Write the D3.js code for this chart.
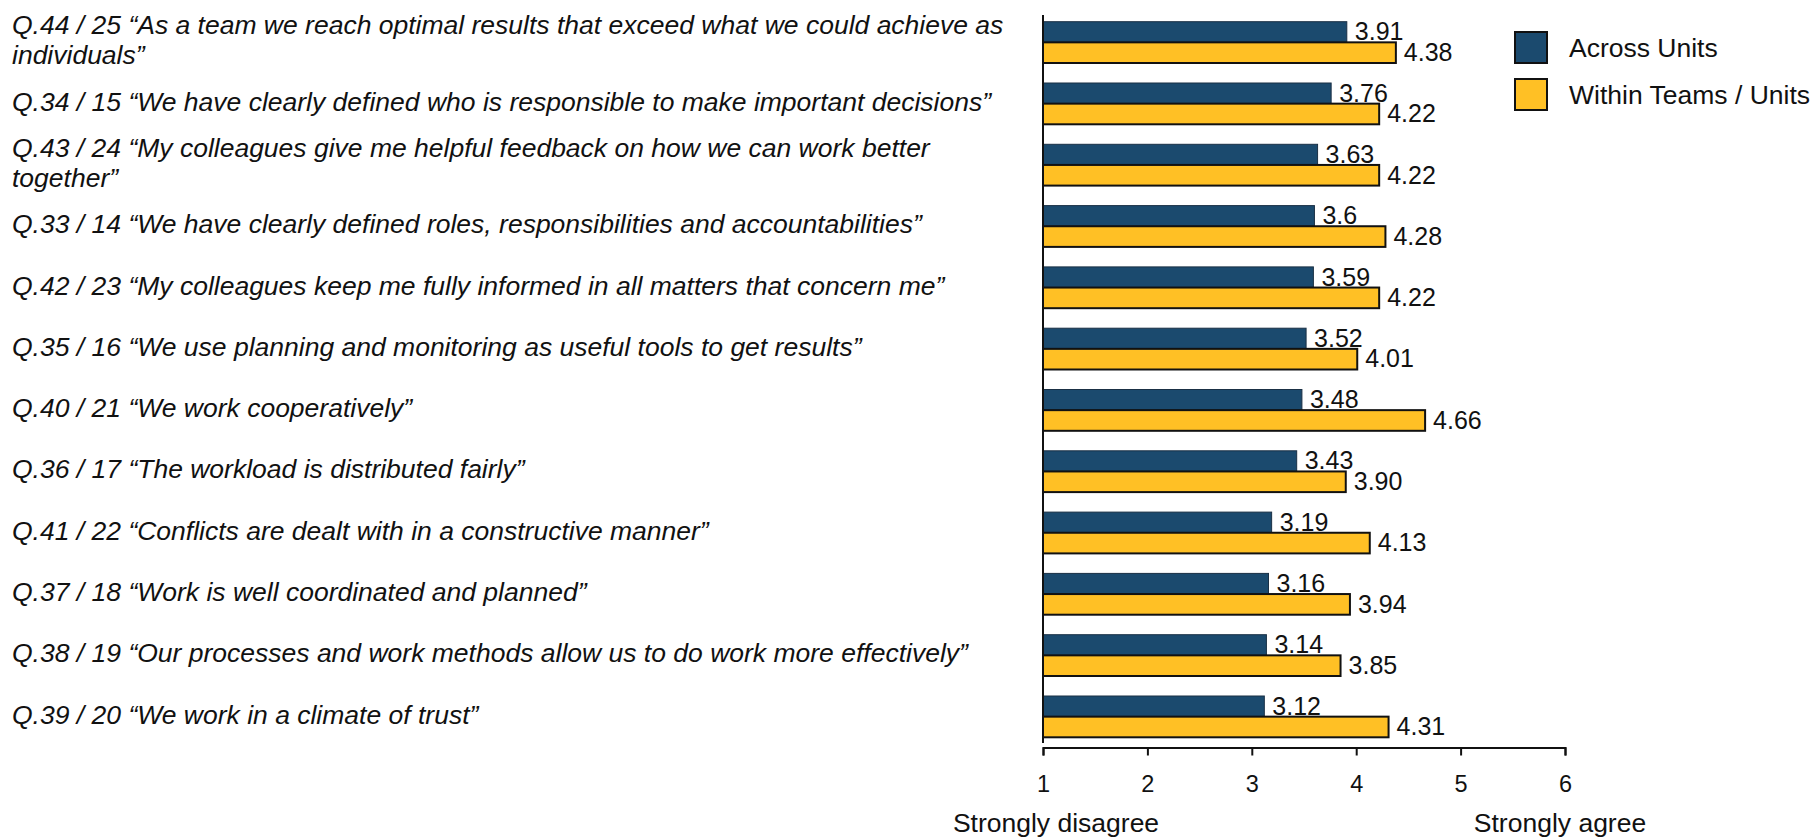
<!DOCTYPE html>
<html>
<head>
<meta charset="utf-8">
<script src="https://cdn.jsdelivr.net/npm/d3@7"></script>
<style>
  html, body { margin: 0; padding: 0; background: #fff; }
  svg { display: block; font-family: "Liberation Sans", Arial, sans-serif; }
</style>
</head>
<body>
<svg id="chart" width="1819" height="838"></svg>
<script>
// Survey statements (line breaks mark where long labels wrap)
const categories = [
  "Q.44 / 25 \u201CAs a team we reach optimal results that exceed what we could achieve as\nindividuals\u201D",
  "Q.34 / 15 \u201CWe have clearly defined who is responsible to make important decisions\u201D",
  "Q.43 / 24 \u201CMy colleagues give me helpful feedback on how we can work better\ntogether\u201D",
  "Q.33 / 14 \u201CWe have clearly defined roles, responsibilities and accountabilities\u201D",
  "Q.42 / 23 \u201CMy colleagues keep me fully informed in all matters that concern me\u201D",
  "Q.35 / 16 \u201CWe use planning and monitoring as useful tools to get results\u201D",
  "Q.40 / 21 \u201CWe work cooperatively\u201D",
  "Q.36 / 17 \u201CThe workload is distributed fairly\u201D",
  "Q.41 / 22 \u201CConflicts are dealt with in a constructive manner\u201D",
  "Q.37 / 18 \u201CWork is well coordinated and planned\u201D",
  "Q.38 / 19 \u201COur processes and work methods allow us to do work more effectively\u201D",
  "Q.39 / 20 \u201CWe work in a climate of trust\u201D"
];

const seriesNames = ["Across Units", "Within Teams / Units"];
const acrossUnits = [3.91, 3.76, 3.63, 3.6, 3.59, 3.52, 3.48, 3.43, 3.19, 3.16, 3.14, 3.12];
const withinTeams = [4.38, 4.22, 4.22, 4.28, 4.22, 4.01, 4.66, 3.90, 4.13, 3.94, 3.85, 4.31];

const xTicks = [1, 2, 3, 4, 5, 6];
const scaleEnds = ["Strongly disagree", "Strongly agree"];

const colors = ["#1b4a6e", "#ffc025"];
const strokes = ["#1a3045", "#111"];
const labelFormat = [v => String(v), v => v.toFixed(2)];

const svg = d3.select("#chart");

const x = d3.scaleLinear().domain([1, 6]).range([1043, 1565]);

const y = d3.scaleBand()
  .domain(categories)
  .range([11.4, 747.6])
  .paddingInner(0.3263)
  .paddingOuter(0.168);

const ySub = d3.scaleBand()
  .domain(seriesNames)
  .range([0, y.bandwidth()]);

const rows = categories.map((c, i) => ({
  cat: c,
  values: [acrossUnits[i], withinTeams[i]]
}));

// Category labels on the left
const labelG = svg.append("g").attr("class", "cat-labels");
rows.forEach(r => {
  const lines = r.cat.split("\n");
  const cy = y(r.cat) + y.bandwidth() / 2;
  const t = labelG.append("text")
    .attr("font-size", 26.5)
    .attr("font-style", "italic")
    .attr("fill", "#111");
  lines.forEach((ln, k) => {
    t.append("tspan")
      .attr("x", 12)
      .attr("y", cy + (k - (lines.length - 1) / 2) * 30 + 7)
      .text(ln);
  });
});

// Bars
const groups = svg.append("g").selectAll("g.row")
  .data(rows)
  .join("g")
  .attr("class", "row")
  .attr("transform", d => `translate(0,${y(d.cat)})`);

groups.selectAll("rect")
  .data(d => d.values.map((v, s) => ({ v, s })))
  .join("rect")
  .attr("x", x(1))
  .attr("y", d => ySub(seriesNames[d.s]))
  .attr("width", d => x(d.v) - x(1))
  .attr("height", ySub.bandwidth())
  .attr("fill", d => colors[d.s])
  .attr("stroke", d => strokes[d.s])
  .attr("stroke-width", d => d.s === 1 ? 2 : 1);

groups.selectAll("text")
  .data(d => d.values.map((v, s) => ({ v, s })))
  .join("text")
  .attr("x", d => x(d.v) + 8)
  .attr("y", d => ySub(seriesNames[d.s]) + ySub.bandwidth() - 2)
  .attr("font-size", 25)
  .attr("fill", "#111")
  .text(d => labelFormat[d.s](d.v));

// Vertical baseline at the scale minimum
svg.append("line")
  .attr("x1", x(1)).attr("x2", x(1))
  .attr("y1", 15).attr("y2", 743)
  .attr("stroke", "#111")
  .attr("stroke-width", 2);

// Bottom axis
const axisG = svg.append("g")
  .attr("transform", "translate(0,747.5)")
  .call(d3.axisBottom(x).tickValues(xTicks).tickSize(8).tickSizeOuter(8).tickPadding(20).tickFormat(d3.format("d")));
axisG.select(".domain").attr("stroke", "#111").attr("stroke-width", 2);
axisG.selectAll(".tick line").attr("stroke", "#111").attr("stroke-width", 2);
axisG.selectAll(".tick text")
  .attr("font-size", 23.5)
  .attr("font-family", "Liberation Sans, Arial, sans-serif")
  .attr("fill", "#111");

// Scale end descriptions
svg.append("text")
  .attr("x", x(1) + 13).attr("y", 831.5)
  .attr("text-anchor", "middle")
  .attr("font-size", 26.5)
  .attr("fill", "#111")
  .text(scaleEnds[0]);
svg.append("text")
  .attr("x", x(6) - 5).attr("y", 831.5)
  .attr("text-anchor", "middle")
  .attr("font-size", 26.5)
  .attr("fill", "#111")
  .text(scaleEnds[1]);

// Legend
const legend = svg.append("g").attr("transform", "translate(1515,32)");
seriesNames.forEach((name, i) => {
  const gy = i * 47;
  legend.append("rect")
    .attr("x", 0).attr("y", gy)
    .attr("width", 32).attr("height", 31)
    .attr("fill", colors[i])
    .attr("stroke", "#111")
    .attr("stroke-width", 2);
  legend.append("text")
    .attr("x", 54).attr("y", gy + 15.5)
    .attr("dy", "0.35em")
    .attr("font-size", 26.5)
    .attr("fill", "#111")
    .text(name);
});
</script>
</body>
</html>
